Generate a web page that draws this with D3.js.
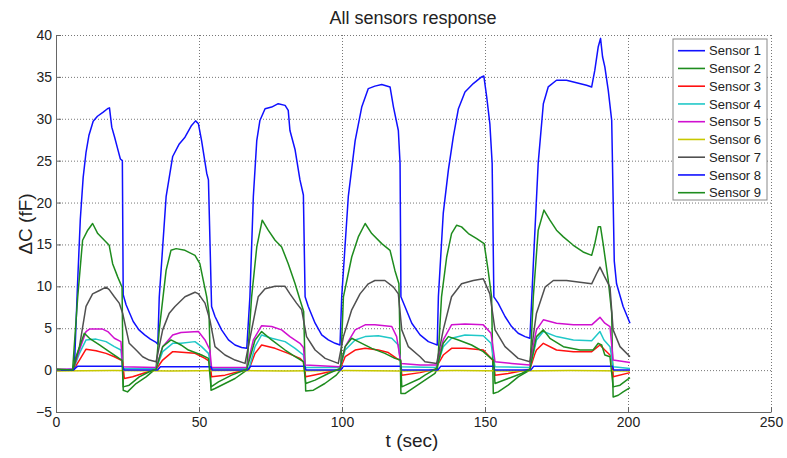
<!DOCTYPE html>
<html>
<head>
<meta charset="utf-8">
<script src="https://cdn.jsdelivr.net/npm/d3@7"></script>
<style>
  body { margin: 0; background: #fff; }
  text { font-family: "Liberation Sans", Arial, sans-serif; fill: #222; }
</style>
</head>
<body>
<div id="chart"></div>
<script>
// [t (sec), dC (fF)]
var sensor1 = [[0,0],[5.8,0.1],[6.4,0],[7.5,10],[8.5,18],[9.5,23],[10.5,26],[11.5,28],[13,29.7],[14.5,30.3],[16.5,30.8],[18,31.2],[18.7,31.3],[19.5,29],[20.5,27.8],[21.5,26.5],[22.5,25.2],[23.2,25],[23.5,9],[24.5,7.8],[25.5,7],[27,5.8],[29,4.8],[31,4.2],[33,3.7],[35,3.3],[35.6,3.1],
  [36.1,8.7],[38.5,20.7],[40.8,25.5],[43.1,27],[45.1,27.8],[47.4,29.2],[48.8,29.75],[49.8,29.4],[50.9,27.4],[52.7,23.5],[53.3,22.7],[54.4,7.6],[55.6,6.4],[57.9,4.8],[60.3,3.6],[62.6,3.0],[64.9,2.7],[66.7,2.6],
  [67.8,8.75],[69,20.7],[70.2,27.4],[71.3,29.8],[73.1,31.2],[75.4,31.4],[77.7,31.8],[80.1,31.6],[81.2,31],[81.8,28.6],[83.6,26.3],[85.3,22.7],[86.5,20.9],[87.1,8.75],[88.2,7.6],[90.6,5.6],[92.9,4.2],[95.2,3.6],[97.6,3.2],[99.3,3.0],
  [99.9,8.75],[102.2,20.7],[104.6,27.4],[106.9,31.4],[109.2,33.6],[111.5,33.9],[113.9,34.1],[116.8,33.8],[118,31.4],[119.7,28.6],[120.3,24.7],[120.6,8.75],[122,7.6],[124.4,5.6],[127.3,4.2],[130.2,3.4],[132.5,3.1],[133.3,3.0],
  [133.7,8.75],[135.4,18.7],[137.2,23.9],[138.9,27.8],[140.7,31.2],[143,33.2],[145.9,34.2],[148.8,35],[149.6,35.1],[150.6,32.6],[151.7,29.4],[152.5,24.7],[153.1,8.75],[154.6,8],[157,6.4],[159.3,5.2],[161.6,4.4],[164,4],[165.7,3.8],
  [166.9,12.7],[168.6,24.7],[170.4,31.8],[172.1,33.8],[175,34.6],[178.5,34.6],[182,34.3],[185.5,34],[187.3,33.8],[188.4,35.8],[189.6,38.6],[190.4,39.6],[191.1,37.4],[191.9,36.2],[193.1,33.4],[194.3,29.8],[195.2,13],[196,10.3],[198.3,7.6],[200.7,5.6]];

var sensor2 = [[0,0.1],[5.8,0],[7.6,8.75],[9.3,15.5],[11.1,16.7],[12.8,17.5],[14.6,16.3],[16.9,15.5],[18.6,14.9],[19.8,12.7],[21.6,11.1],[23.1,9.9],[23.5,-2.4],[25,-2.6],[28,-1.6],[31.5,-0.8],[35,0.2],
  [36.1,4.8],[38.5,11.9],[40.2,14.3],[42,14.5],[45.1,14.3],[48.6,13.7],[50.3,12.7],[51.5,10.7],[52.7,8.75],[53.5,6.8],[54.2,-2.4],[55.6,-2.2],[59.1,-1.6],[62.6,-1],[66.7,0],
  [68.4,8.75],[70.2,14.7],[72.1,17.9],[74.2,16.7],[76.6,15.5],[78.9,14.7],[81.2,12.7],[83.6,10.3],[85.3,8.4],[86.6,7],[87.3,-2.5],[90,-2.4],[94,-1.6],[98,-0.6],[99.5,0],
  [100.5,8.75],[103.4,13.5],[105.7,15.9],[108.1,17.5],[110.4,16.3],[113.9,15.1],[116.8,14.3],[118.5,11.9],[119.9,10.3],[120.6,-2.8],[122,-2.8],[125.5,-2],[129,-1.2],[132.5,-0.4],[133.4,0.2],
  [134.8,8.75],[136.6,13.5],[138.3,16.3],[140.1,17.3],[141.8,17.1],[144.2,16.3],[147.1,15.7],[149.7,15.1],[151.1,11.9],[152.3,8.75],[152.9,-2.8],[154.6,-2.6],[158.1,-1.8],[161.6,-0.8],[165.7,0],
  [166.9,8.75],[168.6,16.7],[170.6,19.1],[172.7,17.9],[175,16.7],[177.4,15.9],[180.9,14.9],[184.3,14.1],[187.3,13.7],[188.4,15.1],[189.6,17.1],[190.4,17.1],[191.3,15.1],[193.1,10.7],[194.3,6.8],[194.8,-3.2],[196.6,-3],[198.3,-2.6],[200.7,-2.1]];

var sensor3 = [[0,0],[6,0],[8.2,1.2],[10.5,2.5],[14,2.3],[17.5,2],[20.4,1.6],[22.7,1.2],[23.3,1],[23.9,-1],[26.8,-0.8],[30.3,-0.4],[35,0.1],[37.3,1.2],[40.8,2.2],[41.6,2.2],[48.6,2],[52.1,1.4],[53.8,1],[54.4,-0.8],[59.1,-0.6],[63.7,-0.2],[67.5,0.1],[69.6,2],[71.9,3],[76.6,2.6],[81.2,2],[85.3,1.4],[86.5,1],[87.3,-0.8],[92.9,-0.4],[99.3,0.1],[101.1,1.6],[104.6,2.4],[108.1,2.6],[112.7,2.4],[116.2,2.1],[119.1,1.4],[120.5,1.1],[120.9,-0.6],[127.3,-0.3],[132.5,0.1],[135.4,1.8],[138.3,2.6],[143,2.6],[149.4,2.4],[152.1,1.4],[153,1.1],[153.5,-0.6],[158.1,-0.4],[165.7,0.1],[167.5,2],[168,2.4],[170.4,3.2],[175,2.4],[180.9,2.2],[187.3,2.2],[190.2,3],[191.9,2.4],[193.7,1.8],[194.4,1.5],[194.8,-0.8],[200.7,-0.3]];

var sensor4 = [[0,0],[6,0],[8.2,2],[10.5,3.6],[14,3.7],[17.5,3.4],[20.4,2.8],[22.7,2.4],[23.3,0.2],[35,0.2],[37.3,2.2],[40.8,3.2],[43.7,3.2],[48.6,3.4],[50.9,2.8],[53.3,2],[54.4,0.2],[67.5,0.2],[69.6,2.8],[71.9,4.2],[75.4,3.8],[80.1,3.4],[83.6,2.6],[86.5,1.8],[87.1,0.3],[99.3,0.3],[101.1,2.4],[104.6,3.6],[108.1,4],[112.7,4.1],[117.4,3.8],[119.7,3],[120.6,0.4],[133.1,0.3],[135.4,2.8],[138.3,3.8],[143,4.2],[149.4,4.1],[152.1,3.2],[153.5,0.4],[165.7,0.3],[167.5,2.8],[168,3.6],[170.4,4.6],[175,4],[180.9,3.6],[187.3,3.5],[190.2,4.6],[191.6,3.6],[193.7,2.8],[194.8,0.4],[200.7,0.2]];

var sensor5 = [[0,0.1],[6,0.1],[8.2,2.4],[10.5,4.6],[11.7,4.9],[16.3,4.9],[18.1,4.6],[20.4,3.8],[22.7,3.4],[23.3,0.4],[35,0.3],[37.3,2.8],[40.8,4.2],[43.7,4.5],[49.8,4.6],[52.1,3.6],[53.8,2.4],[54.4,0.3],[66.7,0.3],[69,3.6],[71.9,5.3],[75.4,5.2],[78.9,4.8],[81.8,4],[85.3,3.2],[86.5,2.7],[87.1,0.6],[99.3,0.4],[101.1,2.8],[104.6,4.8],[108.1,5.4],[111.5,5.4],[117.4,5.2],[119.1,4],[120.6,0.8],[127.3,0.6],[133.1,0.6],[135.4,3.6],[138.3,5.4],[143,5.5],[149.4,5.4],[152.1,4.4],[153.5,1],[159.3,0.8],[165.7,0.6],[167.5,4],[168,4.8],[170.4,6],[175,5.6],[180.9,5.4],[187.3,5.4],[190.2,6.3],[191.9,5.6],[193.7,5.2],[194.8,1.2],[200.7,0.9]];

var sensor6 = [[0,-0.1],[20,-0.05],[40,-0.1],[60,-0.05],[80,-0.1],[100,-0.05],[120,-0.1],[140,-0.05],[160,-0.1],[180,-0.05],[200.7,-0.1]];

var sensor7 = [[0,0],[6,0],[8.2,2.8],[10.5,7.6],[12.8,9.1],[15.2,9.5],[17.5,9.9],[18.6,9.6],[20.4,8.75],[22.1,8],[23.3,6.8],[25.6,3.2],[28,2.4],[30.3,1.6],[32.6,1.2],[35,1],[37.3,4.8],[39.6,6.8],[41.6,7.6],[45.1,8.75],[48.6,9.3],[49.8,9.1],[52.1,8],[53.8,6],[55.6,2.8],[59.1,1.8],[62.6,1.2],[66.1,0.8],[68.4,4.8],[70.7,8.75],[73.1,9.7],[76.6,10],[80.1,10],[81.8,9.1],[84.1,8],[85.9,7.2],[87.6,4],[90.6,2.4],[94.1,1.4],[98.7,0.8],[100.5,4],[103.4,7.2],[106.3,9.1],[109.2,10.3],[111.5,10.7],[115,10.7],[118,9.9],[119.7,9.1],[120.9,4.8],[123.2,2.8],[127.3,1.6],[129,1],[133.1,0.8],[135.4,4.8],[138.3,8.75],[141.8,10.3],[145.9,10.7],[149.4,10.9],[151.7,9.1],[153.5,4.8],[157,2.8],[161.6,1.4],[165.7,1],[167.5,5.6],[168,6.8],[171,9.9],[173.9,10.7],[178.5,10.7],[183.2,10.5],[187.3,10.3],[189,11.5],[190.2,12.3],[191.6,11.3],[193.7,9.9],[194.8,4.8],[197.2,2.8],[200.7,1.6]];

var sensor8 = [[0,0],[6,0],[7.5,0.45],[23.3,0.45],[23.8,0],[35.5,0],[36.5,0.4],[54.2,0.4],[54.6,0],[67,0],[68,0.45],[87,0.45],[87.4,0],[99.5,0],[100.5,0.45],[120.5,0.45],[120.9,0],[133.5,0],[134.5,0.45],[153,0.45],[153.4,0],[166,0],[167,0.45],[194.6,0.45],[195,0],[200.7,0]];

var sensor9 = [[0,0.1],[5.8,0],[7,1.6],[9.9,4.4],[11.7,3.8],[15.2,3],[18.6,2.2],[22.1,1.4],[23.1,1.2],[23.5,-2],[25.6,-1.8],[29.1,-0.8],[32.6,-0.2],[35,0.1],[37.3,2.8],[40.2,3.6],[43.7,3],[46.3,2.4],[50.9,1.8],[53.3,1.4],[54.2,-2],[56.8,-1.4],[61.4,-0.6],[66.7,0.1],[69.6,3.6],[71.9,4.6],[75.4,3.6],[80.1,2.4],[83.6,1.6],[86.5,1],[87.3,-1.6],[90.6,-1.2],[95.2,-0.4],[99.3,0.2],[101.1,2.8],[103.4,3.8],[105.7,3.4],[110.4,2.6],[115,2],[118.5,1.4],[120.5,1.2],[120.9,-2],[127.3,-1],[129,-0.6],[133.1,0.2],[135.4,3.2],[137.2,4],[140.7,3.6],[145.3,3],[149.4,2.2],[152.1,1.4],[153,1.2],[153.5,-1.6],[158.1,-1],[162.8,-0.4],[165.7,0.1],[167.5,3.2],[168,4],[170.4,4.8],[172.7,3.8],[177.4,2.8],[183.2,2.4],[187.8,2.4],[189.6,3.2],[190.8,3],[191.9,1.8],[193.7,1.6],[194.8,-2],[197.2,-1.8],[200.7,-0.9]];

var sensorNames = ["Sensor 1","Sensor 2","Sensor 3","Sensor 4","Sensor 5","Sensor 6","Sensor 7","Sensor 8","Sensor 9"];
var xTicks = [0, 50, 100, 150, 200, 250];
var yTicks = [-5, 0, 5, 10, 15, 20, 25, 30, 35, 40];

var series = [sensor1, sensor2, sensor3, sensor4, sensor5, sensor6, sensor7, sensor8, sensor9];
var colors = ["#1010ff", "#1e8c1e", "#ff1010", "#20c8c8", "#d010d0", "#c8c800", "#505050", "#1010ff", "#1e8c1e"];

var width = 787, height = 458;
var plotLeft = 56, plotRight = 771, plotTop = 35, plotBottom = 412;

var svg = d3.select("#chart").append("svg")
    .attr("width", width)
    .attr("height", height);

var x = d3.scaleLinear().domain([0, 250]).range([plotLeft, plotRight]);
var y = d3.scaleLinear().domain([-5, 40]).range([plotBottom, plotTop]);

// grid
svg.append("g").selectAll("line").data(xTicks.slice(1)).enter().append("line")
    .attr("x1", d => x(d) + 0.5).attr("x2", d => x(d) + 0.5)
    .attr("y1", plotTop).attr("y2", plotBottom)
    .attr("stroke", "#777").attr("stroke-dasharray", "1,2");
svg.append("g").selectAll("line").data(yTicks.slice(1)).enter().append("line")
    .attr("x1", plotLeft).attr("x2", plotRight)
    .attr("y1", d => y(d) + 0.5).attr("y2", d => y(d) + 0.5)
    .attr("stroke", "#777").attr("stroke-dasharray", "1,2");

// series
var line = d3.line().x(d => x(d[0])).y(d => y(d[1]));
svg.append("g").selectAll("path").data(series).enter().append("path")
    .attr("d", line)
    .attr("fill", "none")
    .attr("stroke", (d, i) => colors[i])
    .attr("stroke-width", 1.5)
    .attr("stroke-linejoin", "round");

// axes
var xAxis = svg.append("g")
    .attr("transform", "translate(0," + plotBottom + ")")
    .call(d3.axisBottom(x).tickValues(xTicks).tickSizeInner(-5).tickSizeOuter(0).tickPadding(5));
var yAxis = svg.append("g")
    .attr("transform", "translate(" + plotLeft + ",0)")
    .call(d3.axisLeft(y).tickValues(yTicks).tickSizeInner(-5).tickSizeOuter(0).tickPadding(4));
[xAxis, yAxis].forEach(function (g) {
    g.select(".domain").attr("stroke", "#666");
    g.selectAll(".tick line").attr("stroke", "#666");
    g.selectAll(".tick text").attr("fill", "#222").style("font-size", "14px")
        .style("font-family", "'Liberation Sans', Arial, sans-serif");
});

// labels
svg.append("text").attr("x", 413).attr("y", 24).attr("text-anchor", "middle")
    .style("font-size", "18px").text("All sensors response");
svg.append("text").attr("x", 412).attr("y", 447).attr("text-anchor", "middle")
    .style("font-size", "19px").text("t (sec)");
svg.append("text").attr("transform", "translate(32,224) rotate(-90)").attr("text-anchor", "middle")
    .style("font-size", "19px").text("\u0394C (fF)");

// legend
var lg = svg.append("g").attr("transform", "translate(673,39)");
lg.append("rect").attr("width", 94).attr("height", 161)
    .attr("fill", "#fff").attr("stroke", "#888");
var items = lg.selectAll("g").data(sensorNames).enter().append("g")
    .attr("transform", (d, i) => "translate(0," + (11.7 + i * 17.75) + ")");
items.append("line").attr("x1", 5).attr("x2", 32)
    .attr("stroke", (d, i) => colors[i]).attr("stroke-width", 1.6);
items.append("text").attr("x", 36).attr("dy", "0.35em")
    .style("font-size", "13px").text(d => d);
</script>
</body>
</html>
